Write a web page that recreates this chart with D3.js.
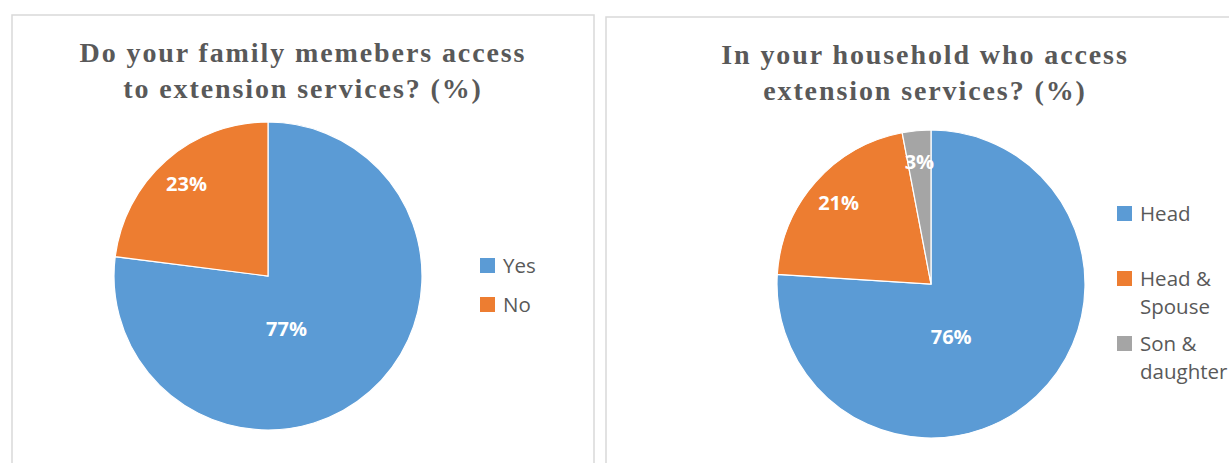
<!DOCTYPE html>
<html>
<head>
<meta charset="utf-8">
<script src="https://cdn.jsdelivr.net/npm/d3@7"></script>
<style>
  body { margin: 0; background: #fff; }
  svg { display: block; }
</style>
</head>
<body>
<svg id="chart" width="1229" height="463"></svg>
<script>
// chart 1
const famCategories = ['Yes', 'No'];
const famValues = [77, 23];
const famTitle = ['Do your family memebers access', 'to extension services? (%)'];

// chart 2
const hhCategories = ['Head', 'Head & Spouse', 'Son & daughter'];
const hhLegendLines = [['Head'], ['Head &', 'Spouse'], ['Son &', 'daughter']];
const hhValues = [76, 21, 3];
const hhTitle = ['In your household who access', 'extension services? (%)'];

const colors = ['#5B9BD5', '#ED7D31', '#A5A5A5'];

const svg = d3.select('#chart');

function drawPanel(opts) {
  const g = svg.append('g');

  g.append('rect')
    .attr('x', opts.box[0]).attr('y', opts.box[1])
    .attr('width', opts.box[2]).attr('height', opts.box[3])
    .attr('fill', '#fff')
    .attr('stroke', '#d9d9d9')
    .attr('stroke-width', 1.5);

  g.append('text')
    .attr('x', opts.titleX)
    .attr('y', opts.titleY)
    .attr('text-anchor', 'middle')
    .attr('font-family', '"Liberation Serif", "Times New Roman", serif')
    .attr('font-weight', 'bold')
    .attr('font-size', 28)
    .attr('letter-spacing', 1.9)
    .attr('fill', '#595959')
    .selectAll('tspan')
    .data(opts.title)
    .enter().append('tspan')
    .attr('x', opts.titleX)
    .attr('dy', (d, i) => i === 0 ? 0 : 36)
    .text(d => d);

  const color = d3.scaleOrdinal().domain(opts.categories).range(colors);
  const pie = d3.pie().sort(null).value(d => d.value);
  const arcs = pie(opts.categories.map((c, i) => ({ name: c, value: opts.values[i] })));
  const r = opts.radius;
  const arc = d3.arc().innerRadius(0).outerRadius(r);

  const pg = g.append('g').attr('transform', `translate(${opts.cx},${opts.cy})`);

  pg.selectAll('path')
    .data(arcs)
    .enter().append('path')
    .attr('d', arc)
    .attr('fill', d => color(d.data.name))
    .attr('stroke', '#fff')
    .attr('stroke-width', 1.2);

  // label placement similar to the office "best fit"
  function labelPos(d) {
    const span = d.endAngle - d.startAngle;
    const mid = (d.startAngle + d.endAngle) / 2;
    if (span > Math.PI) {
      const dist = 2 * r * Math.sin(span / 2) / (3 * span / 2);
      return [Math.sin(mid) * dist, r * 0.34];
    }
    const dist = r * 0.8;
    return [Math.sin(mid) * dist, -Math.cos(mid) * dist];
  }

  pg.selectAll('text.lbl')
    .data(arcs)
    .enter().append('text')
    .attr('class', 'lbl')
    .attr('transform', d => `translate(${labelPos(d)})`)
    .attr('text-anchor', 'middle')
    .attr('dy', '0.36em')
    .attr('font-family', '"Open Sans", sans-serif')
    .attr('font-weight', 'bold')
    .attr('font-size', 20)
    .attr('fill', '#fff')
    .text(d => d.data.value + '%');

  const lg = g.append('g');
  const items = lg.selectAll('g')
    .data(opts.categories)
    .enter().append('g')
    .attr('transform', (d, i) => `translate(${opts.legendX},${opts.legendY[i]})`);

  items.append('rect')
    .attr('x', 0).attr('y', -15)
    .attr('width', 15).attr('height', 15)
    .attr('fill', d => color(d));

  items.append('text')
    .attr('font-family', '"Open Sans", sans-serif')
    .attr('font-size', 20.5)
    .attr('fill', '#595959')
    .selectAll('tspan')
    .data((d, i) => opts.legendLines[i])
    .enter().append('tspan')
    .attr('x', 23)
    .attr('y', (d, i) => i * 28)
    .text(d => d);
}

drawPanel({
  box: [12, 15, 582, 470],
  title: famTitle,
  titleX: 303, titleY: 62,
  categories: famCategories,
  values: famValues,
  cx: 268, cy: 276, radius: 154,
  legendX: 480, legendY: [273, 312],
  legendLines: famCategories.map(c => [c])
});

drawPanel({
  box: [606, 17, 640, 470],
  title: hhTitle,
  titleX: 925, titleY: 64,
  categories: hhCategories,
  values: hhValues,
  cx: 931, cy: 284, radius: 154,
  legendX: 1117, legendY: [221, 286, 351],
  legendLines: hhLegendLines
});
</script>
</body>
</html>
